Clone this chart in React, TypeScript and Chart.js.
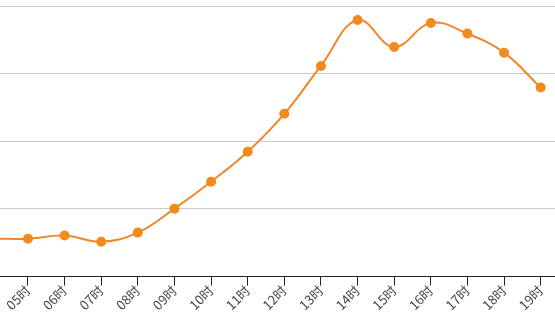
import React, { useEffect, useRef } from "react";
import { Chart, registerables } from "chart.js";

Chart.register(...registerables);

const hours = ["04时", "05时", "06时", "07时", "08时", "09时", "10时", "11时", "12时", "13时", "14时", "15时", "16时", "17时", "18时", "19时"];
const values = [28, 28, 30.3, 25.8, 32.5, 50.2, 70.1, 92.3, 120.3, 155.7, 189.7, 169.7, 187.5, 179.6, 165.5, 139.7];
const yMin = 0;
const yMax = 200;
const yStep = 50;

export default function App() {
  const ref = useRef<HTMLCanvasElement | null>(null);
  useEffect(() => {
    if (!ref.current) return;
    const chart = new Chart(ref.current, {
      type: "line",
      data: {
        labels: hours,
        datasets: [
          {
            data: values,
            borderColor: "#F0872A",
            backgroundColor: "#F28A1E",
            pointBackgroundColor: "#F28A1E",
            pointBorderColor: "#F28A1E",
            pointRadius: 4,
            borderWidth: 2,
            tension: 0.4,
            fill: false,
          },
        ],
      },
      options: {
        animation: false,
        responsive: false,
        maintainAspectRatio: false,
        layout: { padding: { top: 5, left: 0, right: 0, bottom: 15 } },
        plugins: { legend: { display: false }, tooltip: { enabled: false } },
        scales: {
          x: {
            offset: true,
            grid: {
              display: true,
              drawOnChartArea: false,
              drawTicks: true,
              tickLength: 9,
              color: "#222",
            },
            border: { display: true, color: "#222", width: 1 },
            ticks: {
              minRotation: 45,
              maxRotation: 45,
              autoSkip: false,
              color: "#444",
              padding: -3,
              font: { family: "'Noto Sans CJK SC', sans-serif", size: 13 },
            },
          },
          y: {
            min: yMin,
            max: yMax,
            ticks: { display: false, stepSize: yStep },
            grid: { color: "#C8CDD0", drawTicks: false, lineWidth: 1 },
            border: { display: false },
          },
        },
      },
    });
    return () => chart.destroy();
  }, []);
  return (
    <div style={{ position: "fixed", left: 0, top: 0, width: 555, height: 325, overflow: "hidden", background: "#fff" }}>
      <canvas
        ref={ref}
        width={598}
        height={325}
        style={{ position: "absolute", left: -33, top: 0, width: 598, height: 325 }}
      />
    </div>
  );
}
